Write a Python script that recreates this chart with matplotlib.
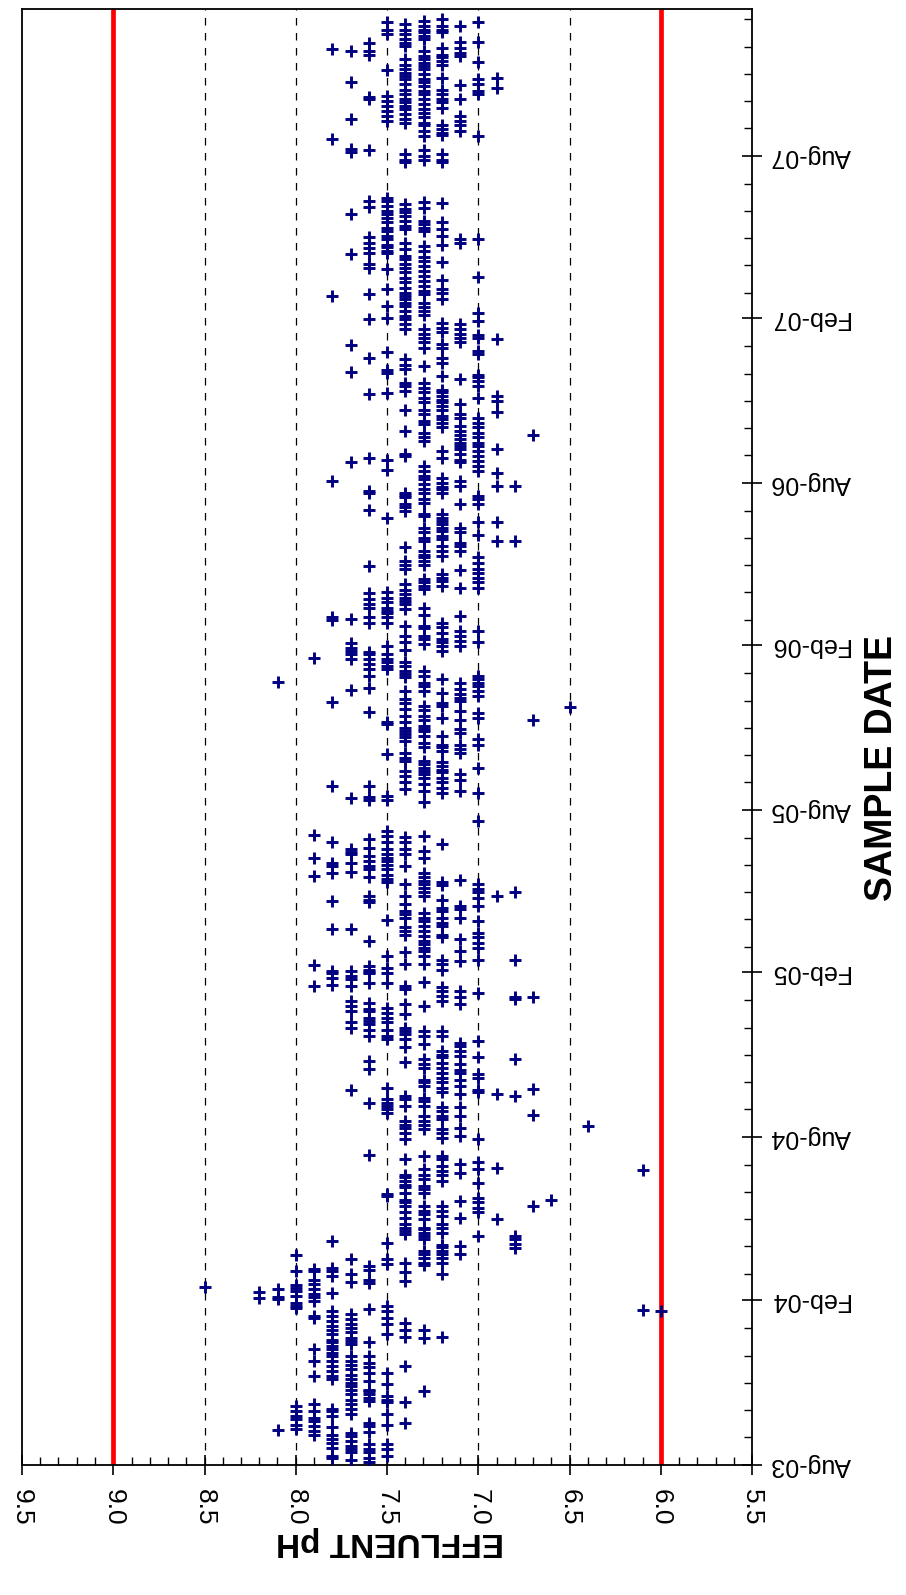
import matplotlib.pyplot as plt
import matplotlib.dates as mdates
from matplotlib.ticker import MultipleLocator, FormatStrFormatter
from datetime import date, timedelta

plt.rcParams['font.family'] = ['Liberation Sans', 'DejaVu Sans']

# --- effluent pH record, days counted from 1 Aug 2003 --- #
start = date(2003, 8, 1)
end = date(2008, 1, 12)

days_ph85 = [199]
days_ph82 = [186, 193]
days_ph81 = [39, 185, 188, 196, 874]
days_ph80 = [40, 45, 51, 55, 60, 66, 175, 178, 181, 189, 194, 198, 201, 217, 234]
days_ph79 = [34, 38, 44, 49, 53, 60, 68, 99, 116, 129, 164, 166, 183, 187, 191, 196, 202, 207,
             217, 219, 535, 558, 657, 677, 703, 901]
days_ph78 = [8, 10, 19, 25, 29, 34, 42, 55, 60, 63, 96, 99, 105, 111, 116, 122, 125, 129, 133,
             137, 140, 146, 151, 155, 161, 166, 172, 192, 211, 217, 220, 250, 536, 544, 549, 551,
             598, 630, 661, 669, 672, 695, 758, 852, 943, 946, 1098, 1305, 1480, 1580]
days_ph77 = [6, 14, 18, 21, 27, 32, 36, 57, 62, 68, 73, 79, 84, 88, 92, 96, 101, 107, 112, 116,
             122, 135, 138, 142, 148, 153, 157, 163, 168, 204, 213, 230, 419, 488, 494, 507, 512,
             518, 535, 542, 546, 551, 598, 662, 672, 682, 684, 687, 744, 865, 899, 905, 909, 912,
             917, 944, 1119, 1220, 1250, 1352, 1396, 1465, 1469, 1502, 1543, 1578]
days_ph76 = [3, 8, 14, 18, 23, 37, 44, 47, 71, 75, 79, 83, 84, 94, 103, 109, 114, 122, 137, 174,
             203, 207, 218, 222, 346, 404, 442, 451, 479, 486, 492, 496, 499, 507, 509, 516, 538,
             549, 550, 553, 557, 585, 628, 631, 635, 656, 665, 669, 674, 680, 689, 699, 742, 745,
             758, 840, 867, 881, 888, 894, 899, 905, 907, 940, 946, 957, 961, 966, 973, 1003,
             1066, 1085, 1087, 1124, 1195, 1235, 1279, 1307, 1336, 1340, 1353, 1358, 1364, 1371,
             1404, 1411, 1468, 1524, 1527, 1574, 1578, 1587]
days_ph75 = [10, 18, 23, 45, 57, 70, 73, 77, 90, 103, 146, 157, 164, 172, 177, 224, 230, 248,
             300, 302, 393, 397, 401, 404, 408, 421, 475, 479, 486, 494, 499, 505, 510, 538, 549,
             555, 568, 608, 651, 654, 659, 665, 670, 674, 678, 682, 687, 695, 702, 708, 742, 747,
             793, 827, 829, 888, 892, 896, 899, 905, 914, 940, 946, 951, 953, 957, 963, 968, 974,
             1057, 1110, 1122, 1196, 1219, 1222, 1242, 1280, 1294, 1313, 1335, 1353, 1355, 1359,
             1362, 1368, 1372, 1377, 1381, 1387, 1392, 1396, 1400, 1405, 1411, 1414, 1500, 1506,
             1511, 1517, 1522, 1528, 1557, 1597, 1602, 1610]
days_ph74 = [47, 70, 111, 143, 151, 159, 205, 215, 226, 258, 261, 265, 269, 276, 282, 289, 293,
             296, 304, 310, 313, 317, 321, 324, 341, 364, 371, 376, 380, 384, 401, 408, 412, 450,
             466, 475, 481, 484, 488, 503, 514, 531, 535, 559, 573, 592, 596, 600, 611, 615, 618,
             626, 635, 648, 669, 682, 687, 695, 701, 755, 762, 769, 775, 786, 789, 795, 808, 812,
             816, 819, 823, 829, 836, 844, 851, 855, 864, 879, 883, 886, 892, 896, 910, 918, 925,
             936, 955, 961, 964, 968, 972, 977, 983, 1000, 1005, 1009, 1024, 1065, 1069, 1072,
             1080, 1083, 1085, 1126, 1128, 1154, 1177, 1199, 1204, 1208, 1223, 1228, 1234, 1268,
             1273, 1279, 1282, 1288, 1294, 1297, 1301, 1305, 1308, 1314, 1320, 1325, 1331, 1336,
             1340, 1346, 1349, 1357, 1364, 1379, 1383, 1388, 1394, 1398, 1402, 1407, 1454, 1457,
             1463, 1498, 1502, 1508, 1513, 1517, 1521, 1524, 1530, 1535, 1541, 1547, 1550, 1554,
             1558, 1563, 1569, 1584, 1587, 1591, 1597, 1602, 1608]
days_ph73 = [83, 142, 151, 223, 226, 231, 235, 239, 252, 256, 259, 263, 265, 274, 280, 283, 289,
             304, 308, 311, 319, 324, 330, 345, 375, 380, 384, 390, 401, 406, 410, 423, 427, 430,
             443, 447, 453, 470, 479, 484, 512, 539, 559, 568, 574, 577, 581, 585, 590, 596, 602,
             607, 611, 616, 635, 639, 644, 648, 652, 656, 661, 678, 685, 702, 740, 752, 760, 767,
             771, 775, 778, 782, 786, 801, 806, 814, 819, 821, 825, 832, 836, 843, 847, 864, 869,
             873, 881, 886, 916, 922, 925, 934, 936, 949, 957, 978, 981, 985, 989, 1005, 1009,
             1013, 1016, 1020, 1031, 1035, 1041, 1046, 1059, 1061, 1074, 1078, 1085, 1089, 1095,
             1100, 1104, 1109, 1115, 1143, 1147, 1152, 1162, 1165, 1173, 1178, 1186, 1191, 1197,
             1202, 1208, 1227, 1247, 1253, 1258, 1262, 1268, 1284, 1288, 1292, 1297, 1307, 1310,
             1316, 1321, 1327, 1333, 1338, 1344, 1348, 1355, 1361, 1377, 1381, 1385, 1388, 1403,
             1410, 1457, 1461, 1468, 1483, 1489, 1495, 1498, 1504, 1509, 1513, 1519, 1524, 1530,
             1534, 1539, 1543, 1547, 1552, 1558, 1561, 1565, 1569, 1573, 1578, 1591, 1595, 1599,
             1602, 1606, 1612]
days_ph72 = [143, 213, 226, 231, 235, 239, 243, 245, 259, 265, 269, 278, 283, 289, 317, 324, 328,
             334, 341, 345, 365, 371, 375, 386, 390, 395, 399, 416, 421, 427, 432, 438, 443, 449,
             455, 458, 462, 479, 484, 518, 523, 529, 533, 553, 559, 564, 589, 592, 602, 605, 611,
             618, 622, 631, 647, 651, 693, 750, 756, 762, 767, 773, 776, 780, 785, 797, 801, 804,
             814, 834, 847, 851, 862, 877, 909, 914, 918, 922, 929, 935, 940, 981, 987, 990, 994,
             1015, 1020, 1026, 1033, 1037, 1042, 1046, 1050, 1054, 1057, 1061, 1085, 1089, 1091,
             1096, 1102, 1124, 1132, 1158, 1163, 1167, 1171, 1178, 1182, 1186, 1189, 1193, 1197,
             1200, 1215, 1230, 1236, 1247, 1251, 1264, 1269, 1275, 1301, 1308, 1312, 1322, 1343,
             1362, 1372, 1379, 1387, 1409, 1454, 1457, 1463, 1484, 1487, 1491, 1496, 1515, 1521,
             1524, 1530, 1535, 1548, 1563, 1567, 1571, 1574, 1582, 1599, 1602, 1606, 1614]
days_ph71 = [235, 244, 276, 295, 326, 336, 367, 376, 390, 399, 414, 423, 430, 438, 441, 447, 456,
             462, 468, 471, 514, 522, 529, 563, 574, 587, 611, 620, 624, 653, 752, 765, 771, 795,
             799, 804, 817, 821, 832, 842, 853, 856, 860, 866, 873, 914, 920, 925, 931, 948, 979,
             999, 1020, 1026, 1029, 1041, 1046, 1072, 1093, 1098, 1119, 1122, 1128, 1134, 1137,
             1141, 1145, 1149, 1154, 1160, 1169, 1173, 1184, 1212, 1253, 1258, 1262, 1268, 1273,
             1364, 1368, 1489, 1495, 1500, 1506, 1525, 1540, 1573, 1576, 1582, 1588, 1606]
days_ph70 = [256, 282, 287, 293, 298, 315, 330, 338, 364, 416, 419, 432, 436, 455, 473, 527, 564,
             577, 583, 589, 594, 607, 624, 633, 639, 643, 648, 719, 750, 778, 804, 810, 834, 839,
             858, 864, 869, 873, 877, 881, 918, 931, 979, 985, 990, 996, 1000, 1007, 1013, 1038,
             1052, 1072, 1078, 1082, 1109, 1115, 1121, 1126, 1132, 1137, 1141, 1147, 1152, 1158,
             1163, 1169, 1191, 1204, 1210, 1214, 1217, 1240, 1243, 1258, 1261, 1277, 1286, 1326,
             1368, 1483, 1530, 1534, 1541, 1547, 1566, 1588, 1611]
days_ph69 = [275, 332, 414, 635, 1031, 1053, 1093, 1107, 1134, 1175, 1188, 1193, 1257, 1537, 1548]
days_ph68 = [242, 247, 252, 256, 412, 453, 520, 522, 564, 640, 1031, 1093]
days_ph67 = [289, 391, 420, 522, 832, 1149]
days_ph66 = [296]
days_ph65 = [846]
days_ph64 = [378]
days_ph61 = [173, 329]
days_ph60 = [172]

ph_levels = [8.5, 8.2, 8.1, 8.0, 7.9, 7.8, 7.7, 7.6, 7.5, 7.4, 7.3, 7.2, 7.1, 7.0,
             6.9, 6.8, 6.7, 6.6, 6.5, 6.4, 6.1, 6.0]
day_lists = [days_ph85, days_ph82, days_ph81, days_ph80, days_ph79, days_ph78, days_ph77,
             days_ph76, days_ph75, days_ph74, days_ph73, days_ph72, days_ph71, days_ph70,
             days_ph69, days_ph68, days_ph67, days_ph66, days_ph65, days_ph64, days_ph61,
             days_ph60]

permit_limits = [9.0, 6.0]
grid_levels = [8.5, 8.0, 7.5, 7.0, 6.5]

fig = plt.figure(figsize=(9.06, 15.95), dpi=100)
ax = fig.add_axes([22 / 906, 130 / 1595, 730 / 906, 1456 / 1595])

for g in grid_levels:
    ax.axvline(g, color='black', lw=0.9, ls=(0, (6, 6)), zorder=1)
for lim in permit_limits:
    ax.axvline(lim, color='#ff0000', lw=3.4, zorder=2)

for ph, days in zip(ph_levels, day_lists):
    dates = [start + timedelta(days=d) for d in days]
    ax.plot([ph] * len(dates), dates, ls='none', marker='+', ms=8, mew=2.1,
            color='#000080', zorder=3)

# pH runs right to left along the bottom
ax.set_xlim(9.5, 5.5)
ax.xaxis.set_major_locator(MultipleLocator(0.5))
ax.xaxis.set_minor_locator(MultipleLocator(0.1))
ax.xaxis.set_major_formatter(FormatStrFormatter('%.1f'))

# dates run bottom to top on the right
ax.set_ylim(start, end)
ax.yaxis.tick_right()
ax.yaxis.set_major_locator(mdates.MonthLocator(bymonth=[2, 8]))
ax.yaxis.set_minor_locator(mdates.MonthLocator())
ax.yaxis.set_major_formatter(mdates.DateFormatter('%b-%y'))

ax.tick_params(axis='x', which='major', direction='inout', length=14, width=1.2,
               labelsize=19, labelrotation=270, pad=10)
ax.tick_params(axis='x', which='minor', direction='in', length=6, width=1.0)
ax.tick_params(axis='y', which='major', direction='inout', length=14, width=1.2,
               labelsize=18, labelrotation=180, pad=6)
ax.tick_params(axis='y', which='minor', direction='in', length=6, width=1.0)
for lbl in ax.get_yticklabels():
    lbl.set_va('center')

for s in ax.spines.values():
    s.set_linewidth(1.3)

fig.text(390 / 906, 1 - 1541 / 1595, 'EFFLUENT pH', rotation=180, fontsize=24,
         fontweight='bold', ha='center', va='center')
fig.text(882 / 906, 1 - 768 / 1595, 'SAMPLE DATE', rotation=90, fontsize=27,
         fontweight='bold', ha='center', va='center')

fig.savefig('out.png', dpi=100)
